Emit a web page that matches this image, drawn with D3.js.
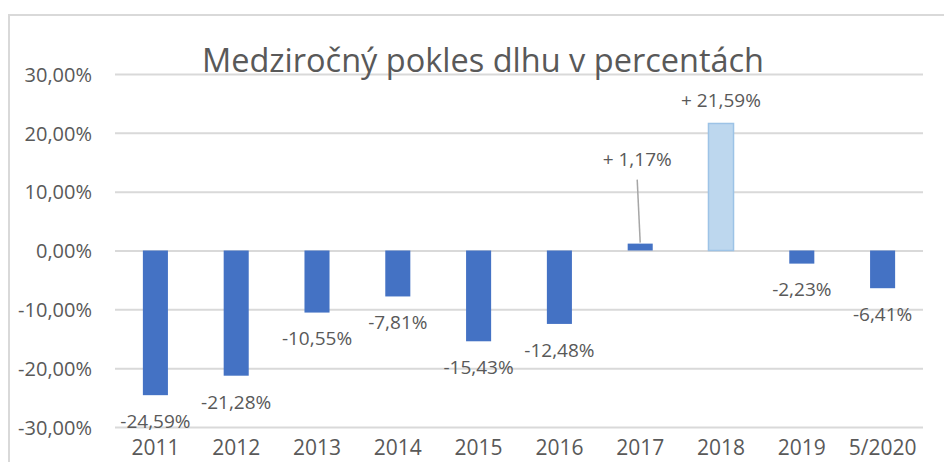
<!DOCTYPE html>
<html>
<head>
<meta charset="utf-8">
<script src="https://cdn.jsdelivr.net/npm/d3@7"></script>
<style>
  body { margin: 0; background: #fff; }
  svg text { font-family: "Open Sans", sans-serif; fill: #595959; }
</style>
</head>
<body>
<div id="chart-area"></div>
<script>
// data
var categories = ["2011", "2012", "2013", "2014", "2015", "2016", "2017", "2018", "2019", "5/2020"];
var values = [-24.59, -21.28, -10.55, -7.81, -15.43, -12.48, 1.17, 21.59, -2.23, -6.41];
var yTicks = [-30, -20, -10, 0, 10, 20, 30];
var highlight = "2018";

var W = 944, H = 462;
var margin = { left: 115, right: 21, top: 74, bottom: 35 };
var plotW = W - margin.left - margin.right;
var plotH = H - margin.top - margin.bottom;

var locale = d3.formatLocale({ decimal: ",", thousands: " ", grouping: [3], currency: ["", ""], minus: "-" });
var fmt = locale.format(".2f");

var svg = d3.select("#chart-area").append("svg")
    .attr("width", W)
    .attr("height", H);

// chart frame
svg.append("rect")
    .attr("x", 9).attr("y", 15)
    .attr("width", W).attr("height", H)
    .attr("fill", "none")
    .attr("stroke", "#d9d9d9")
    .attr("stroke-width", 2);

var g = svg.append("g")
    .attr("transform", "translate(" + margin.left + "," + margin.top + ")");

// scales
var x = d3.scaleBand()
    .domain(categories)
    .range([0, plotW])
    .padding(0);
var y = d3.scaleLinear()
    .domain([-30, 30])
    .range([plotH, 0]);
var barW = x.bandwidth() * 0.31;

// grid
g.append("g")
    .attr("class", "grid")
    .call(d3.axisLeft(y).tickValues(yTicks).tickSize(-plotW).tickFormat(""))
    .call(function(s) {
        s.select(".domain").remove();
        s.selectAll("line").attr("stroke", "#d9d9d9").attr("stroke-width", 2);
    });

// y axis labels
g.append("g")
    .call(d3.axisLeft(y).tickValues(yTicks).tickSize(0).tickPadding(23)
        .tickFormat(function(d) { return fmt(d) + "%"; }))
    .call(function(s) {
        s.select(".domain").remove();
        s.selectAll("text").attr("font-size", "20px").attr("dy", "0.36em")
            .style("font-family", "'Open Sans', sans-serif").attr("fill", "#595959");
    });

// x axis labels
g.append("g")
    .attr("transform", "translate(0," + plotH + ")")
    .call(d3.axisBottom(x).tickSize(0).tickPadding(13))
    .call(function(s) {
        s.select(".domain").remove();
        s.selectAll("text").attr("font-size", "21px").attr("dy", "0.71em")
            .style("font-family", "'Open Sans', sans-serif").attr("fill", "#595959");
    });

// bars
g.selectAll("rect.bar")
    .data(values)
    .enter().append("rect")
    .attr("class", "bar")
    .attr("x", function(d, i) { return x(categories[i]) + (x.bandwidth() - barW) / 2; })
    .attr("y", function(d) { return y(Math.max(0, d)); })
    .attr("width", barW)
    .attr("height", function(d) { return Math.abs(y(d) - y(0)); })
    .attr("fill", function(d, i) { return categories[i] == highlight ? "#bdd7ee" : "#4472c4"; })
    .attr("stroke", function(d, i) { return categories[i] == highlight ? "#9dc3e6" : "none"; })
    .attr("stroke-width", 1.5);

// data labels
function labelText(d) { return (d > 0 ? "+ " : "") + fmt(d) + "%"; }
function labelY(d, i) {
    if (categories[i] == "2017") return y(d) - 84;
    if (d > 0) return y(d) - 23;
    return y(d) + 26;
}
function labelX(d, i) {
    var cx = x(categories[i]) + x.bandwidth() / 2;
    if (categories[i] == "2017") return cx - 3;
    return cx;
}

g.selectAll("text.lbl")
    .data(values)
    .enter().append("text")
    .attr("class", "lbl")
    .attr("x", labelX)
    .attr("y", labelY)
    .attr("dy", "0.36em")
    .attr("text-anchor", "middle")
    .attr("font-size", "19px")
    .text(labelText);

// leader line for 2017
var i17 = categories.indexOf("2017");
g.append("line")
    .attr("x1", labelX(values[i17], i17))
    .attr("y1", labelY(values[i17], i17) + 20)
    .attr("x2", x("2017") + x.bandwidth() / 2)
    .attr("y2", y(values[i17]) - 1)
    .attr("stroke", "#a6a6a6")
    .attr("stroke-width", 1.5);

// title
svg.append("text")
    .attr("x", 483)
    .attr("y", 72)
    .attr("text-anchor", "middle")
    .attr("font-size", "32.5px")
    .text("Medziročný pokles dlhu v percentách");
</script>
</body>
</html>
